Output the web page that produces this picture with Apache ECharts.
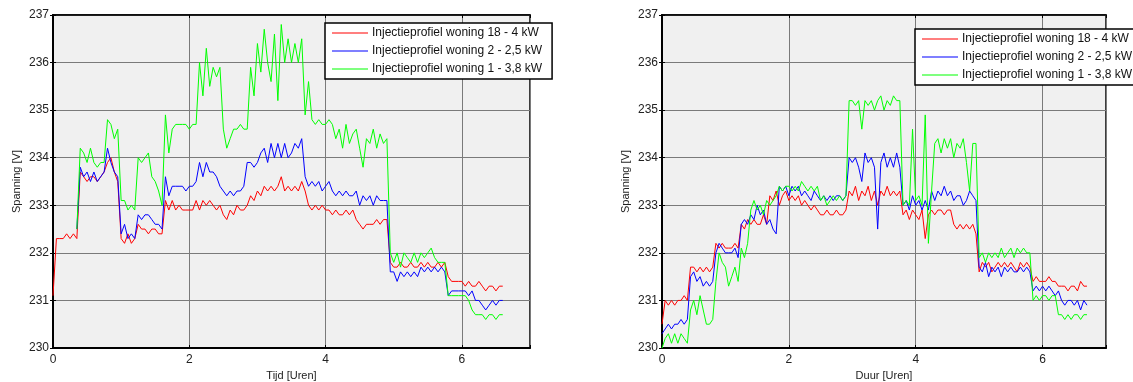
<!DOCTYPE html>
<html lang="nl">
<head>
  <meta charset="utf-8">
  <title>Spanning injectieprofielen</title>
  <style>
    html, body { margin: 0; padding: 0; background: #fff; }
    #chart { width: 1133px; height: 382px; }
  </style>
</head>
<body>
  <div id="chart"></div>
  <script src="https://cdn.jsdelivr.net/npm/echarts@6/dist/echarts.min.js"></script>
  <script>
    // tijdstap tussen de meetpunten (uren)
    var stepH = 0.05;

    var seriesNames = ['Injectieprofiel woning 18 - 4 kW', 'Injectieprofiel woning 2 - 2,5 kW', 'Injectieprofiel woning 1 - 3,8 kW'];
    var lineColors = ['#ff0000', '#0000ff', '#00ff00'];
    var yTicks = [230, 231, 232, 233, 234, 235, 236, 237];
    var xTicks = [0, 2, 4, 6];

    // linker grafiek (Tijd)
    var leftRed = [231.1, 232.3, 232.3, 232.3, 232.4, 232.3, 232.4, 232.3, 233.7, 233.6,
      233.5, 233.6, 233.6, 233.5, 233.6, 233.7, 233.9, 234.0, 233.7, 233.5,
      232.3, 232.2, 232.4, 232.2, 232.3, 232.6, 232.5, 232.5, 232.4, 232.5,
      232.5, 232.4, 232.4, 233.1, 232.9, 233.1, 232.9, 233.0, 232.9, 232.9,
      232.9, 232.9, 233.1, 232.9, 233.1, 233.0, 233.1, 233.0, 232.9, 233.0,
      232.8, 232.7, 232.9, 232.8, 233.0, 232.9, 232.9, 233.0, 233.2, 233.1,
      233.3, 233.2, 233.4, 233.3, 233.4, 233.3, 233.4, 233.6, 233.3, 233.4,
      233.3, 233.4, 233.3, 233.5, 233.3, 233.0, 232.9, 233.0, 232.9, 233.0,
      232.9, 232.9, 232.8, 232.9, 232.8, 232.8, 232.9, 232.8, 232.9, 232.7,
      232.6, 232.5, 232.6, 232.6, 232.6, 232.7, 232.6, 232.7, 232.7, 231.8,
      231.7, 231.7, 231.8, 231.7, 231.7, 231.8, 231.7, 231.7, 231.8, 231.7,
      231.8, 231.7, 231.7, 231.8, 231.7, 231.8, 231.5, 231.4, 231.4, 231.4,
      231.4, 231.3, 231.4, 231.3, 231.3, 231.4, 231.3, 231.2, 231.3, 231.3,
      231.2, 231.3, 231.3];
    var leftBlue = [null, null, null, null, null, null, null, 232.5, 233.8, 233.6,
      233.7, 233.5, 233.7, 233.5, 233.6, 233.7, 234.2, 233.9, 233.7, 233.6,
      232.4, 232.6, 232.3, 232.4, 232.3, 232.8, 232.7, 232.8, 232.8, 232.7,
      232.6, 232.6, 232.5, 233.6, 233.2, 233.4, 233.4, 233.4, 233.4, 233.3,
      233.4, 233.4, 233.5, 233.9, 233.6, 233.9, 233.7, 233.7, 233.6, 233.4,
      233.3, 233.2, 233.3, 233.2, 233.3, 233.3, 233.4, 233.9, 233.9, 233.8,
      233.9, 234.1, 234.2, 233.9, 234.3, 234.0, 234.3, 234.0, 234.3, 234.0,
      234.1, 234.3, 234.2, 234.4, 233.6, 233.4, 233.5, 233.4, 233.5, 233.3,
      233.4, 233.5, 233.3, 233.2, 233.3, 233.2, 233.3, 233.2, 233.2, 233.3,
      233.0, 233.2, 233.1, 233.2, 233.0, 233.2, 233.1, 233.1, 233.1, 231.6,
      231.6, 231.4, 231.6, 231.5, 231.6, 231.5, 231.6, 231.5, 231.7, 231.6,
      231.7, 231.6, 231.7, 231.6, 231.7, 231.6, 231.1, 231.2, 231.2, 231.2,
      231.2, 231.2, 231.1, 231.2, 231.0, 231.0, 230.9, 230.8, 230.9, 231.0,
      230.9, 231.0, 231.0];
    var leftGreen = [null, null, null, null, null, null, null, 232.5, 234.2, 234.1,
      233.9, 234.2, 233.9, 233.8, 233.9, 233.9, 234.8, 234.7, 234.4, 234.6,
      233.1, 233.1, 232.9, 233.0, 232.9, 234.0, 233.9, 234.0, 234.1, 233.6,
      233.5, 233.3, 233.0, 234.9, 234.1, 234.6, 234.7, 234.7, 234.7, 234.7,
      234.6, 234.7, 234.7, 236.0, 235.3, 236.3, 235.5, 235.9, 235.7, 235.9,
      234.6, 234.2, 234.4, 234.6, 234.6, 234.7, 234.6, 234.6, 235.9, 235.3,
      236.4, 235.8, 236.7, 236.0, 235.6, 236.6, 235.2, 236.8, 236.0, 236.5,
      236.0, 236.4, 236.0, 236.5, 234.9, 235.6, 234.8, 234.7, 234.8, 234.7,
      234.7, 234.8, 234.7, 234.4, 234.6, 234.2, 234.7, 234.3, 234.5, 234.6,
      234.2, 233.8, 234.4, 234.3, 234.6, 234.2, 234.5, 234.3, 234.4, 232.0,
      231.8, 232.0, 231.7, 232.0, 231.9, 231.8, 232.0, 231.8, 232.0, 231.9,
      232.0, 232.1, 231.9, 231.8, 231.8, 231.8, 231.1, 231.1, 231.1, 231.1,
      231.1, 231.1, 231.0, 230.8, 230.7, 230.7, 230.7, 230.6, 230.7, 230.7,
      230.6, 230.7, 230.7];

    // rechter grafiek (Duur)
    var rightRed = [230.5, 231.0, 230.9, 231.0, 230.9, 231.0, 231.0, 231.1, 231.0, 231.7,
      231.7, 231.6, 231.7, 231.6, 231.7, 231.6, 231.7, 232.2, 232.1, 232.2,
      232.1, 232.1, 232.1, 232.2, 232.1, 232.6, 232.5, 232.7, 232.6, 232.7,
      232.6, 232.6, 232.8, 232.6, 233.2, 233.1, 233.3, 233.0, 233.2, 233.3,
      233.1, 233.2, 233.1, 233.2, 233.0, 233.1, 233.0, 232.9, 233.0, 232.9,
      232.8, 232.8, 232.9, 232.8, 232.8, 232.9, 232.8, 232.8, 232.9, 233.3,
      233.2, 233.4, 233.1, 233.3, 233.2, 233.4, 233.1, 233.3, 233.0, 233.3,
      233.2, 233.4, 233.2, 233.3, 233.2, 233.3, 232.8, 232.9, 232.7, 232.9,
      232.8, 232.7, 232.9, 232.3, 232.8, 232.9, 232.8, 232.9, 232.9, 232.8,
      232.9, 232.9, 232.6, 232.5, 232.6, 232.5, 232.6, 232.5, 232.6, 232.4,
      231.6, 231.8, 231.7, 231.8, 231.6, 231.7, 231.8, 231.7, 231.8, 231.7,
      231.8, 231.7, 231.6, 231.8, 231.7, 231.8, 231.7, 231.4, 231.5, 231.4,
      231.4, 231.4, 231.5, 231.4, 231.4, 231.3, 231.3, 231.3, 231.2, 231.3,
      231.3, 231.2, 231.4, 231.3, 231.3];
    var rightBlue = [230.3, 230.4, 230.5, 230.4, 230.5, 230.5, 230.6, 230.5, 230.6, 231.5,
      231.6, 231.4, 231.5, 231.3, 231.4, 231.3, 231.4, 232.0, 232.2, 232.1,
      232.0, 232.0, 232.0, 232.1, 231.9, 232.6, 232.7, 232.6, 232.8, 232.7,
      233.0, 232.8, 232.9, 232.6, 232.7, 232.5, 232.4, 233.4, 233.3, 233.4,
      233.2, 233.4, 233.3, 233.4, 233.2, 233.3, 233.2, 233.1, 233.3, 233.2,
      233.1, 233.2, 233.1, 233.2, 233.1, 233.2, 233.2, 233.1, 233.2, 234.0,
      233.9, 234.0, 233.8, 233.5, 234.1, 233.9, 234.0, 233.8, 232.5, 233.9,
      234.1, 233.8, 234.0, 233.8, 234.1, 233.8, 233.0, 233.1, 232.9, 233.2,
      233.0, 233.1, 232.9, 233.1, 232.9, 233.3, 233.1, 233.3, 233.2, 233.4,
      233.2, 233.3, 233.1, 233.2, 233.2, 233.0, 233.1, 233.3, 233.2, 233.1,
      231.7, 231.6, 231.8, 231.5, 231.7, 231.6, 231.7, 231.5, 231.7, 231.6,
      231.7, 231.6, 231.6, 231.7, 231.6, 231.7, 231.6, 231.2, 231.3, 231.2,
      231.3, 231.2, 231.3, 231.2, 231.1, 231.2, 231.0, 230.9, 231.0, 231.0,
      230.9, 231.0, 230.8, 231.0, 230.9];
    var rightGreen = [230.0, 230.2, 230.3, 230.1, 230.3, 230.1, 230.3, 230.2, 230.1, 230.8,
      231.0, 230.7, 231.1, 230.8, 230.5, 230.5, 230.6, 231.4, 232.0, 231.8,
      231.7, 231.3, 231.5, 231.7, 231.4, 232.1, 231.9, 232.2, 232.9, 233.1,
      232.9, 233.0, 232.8, 233.1, 233.0, 233.1, 233.2, 233.4, 233.3, 233.4,
      233.4, 233.3, 233.4, 233.3, 233.5, 233.4, 233.3, 233.4, 233.3, 233.4,
      233.1, 233.2, 233.0, 233.1, 233.2, 233.1, 233.2, 233.1, 233.2, 235.2,
      235.2, 235.1, 235.2, 234.6, 235.2, 235.1, 235.2, 235.0, 235.2, 235.3,
      235.0, 235.2, 235.1, 235.3, 235.2, 235.2, 233.0, 233.1, 233.0, 234.6,
      233.1, 233.2, 233.0, 234.9, 232.2, 233.3, 234.3, 234.4, 234.1, 234.4,
      234.2, 234.4, 234.0, 234.3, 234.2, 234.4, 233.9, 233.3, 234.3, 234.3,
      231.9, 232.0, 231.8, 232.0, 231.9, 232.0, 231.9, 232.1, 231.9, 232.0,
      232.1, 231.9, 232.1, 232.0, 232.1, 232.0, 232.0, 231.0, 231.1, 231.0,
      231.1, 231.1, 231.0, 231.1, 231.1, 230.7, 230.7, 230.6, 230.7, 230.6,
      230.7, 230.7, 230.6, 230.7, 230.7];

    // koppel de waarden aan de tijdas
    function toPoints(vals) {
      return vals.map(function (v, i) { return [+(i * stepH).toFixed(2), v]; });
    }

    var fontFam = '"Liberation Sans", Arial, sans-serif';
    var grids = [
      { left: 53, top: 15, width: 477, height: 333 },
      { left: 662, top: 15, width: 444, height: 333 }
    ];
    var xNames = ['Tijd [Uren]', 'Duur [Uren]'];
    var legendPos = [{ left: 325, top: 23 }, { left: 915, top: 29 }];
    var chartData = [[leftRed, leftBlue, leftGreen], [rightRed, rightBlue, rightGreen]];

    var option = {
      animation: false,
      grid: [],
      xAxis: [],
      yAxis: [],
      legend: [],
      series: []
    };

    grids.forEach(function (g, k) {
      option.grid.push({
        left: g.left, top: g.top, width: g.width, height: g.height,
        containLabel: false, outerBoundsMode: 'none',
        show: true, backgroundColor: '#f0f0f0', borderColor: '#000', borderWidth: 1.5
      });
      // onderste en bovenste x-as
      option.xAxis.push({
        type: 'value', gridIndex: k, min: 0, max: 7, interval: 2,
        name: xNames[k], nameLocation: 'middle', nameGap: 20,
        nameTextStyle: { fontFamily: fontFam, fontSize: 11, color: '#222' },
        axisLine: { lineStyle: { color: '#000', width: 2 } },
        axisTick: { inside: true, length: 3, lineStyle: { color: '#000' } },
        axisLabel: {
          fontFamily: fontFam, fontSize: 12, color: '#222', margin: 6,
          formatter: function (v) { return xTicks.indexOf(v) >= 0 ? String(v) : ''; }
        },
        splitLine: { show: true, lineStyle: { color: '#7a7a7a', width: 1 } }
      });
      option.xAxis.push({
        type: 'value', gridIndex: k, min: 0, max: 7, interval: 2, position: 'top',
        axisLine: { lineStyle: { color: '#000', width: 1.5 } },
        axisTick: { inside: true, length: 3, lineStyle: { color: '#000' } },
        axisLabel: { show: false }, splitLine: { show: false }
      });
      // linker en rechter y-as
      option.yAxis.push({
        type: 'value', gridIndex: k, min: yTicks[0], max: yTicks[yTicks.length - 1], interval: 1,
        name: 'Spanning [V]', nameLocation: 'middle', nameGap: 31, nameRotate: 90,
        nameTextStyle: { fontFamily: fontFam, fontSize: 11, color: '#222' },
        axisLine: { lineStyle: { color: '#000', width: 2 } },
        axisTick: { inside: true, length: 3, lineStyle: { color: '#000' } },
        axisLabel: { fontFamily: fontFam, fontSize: 12, color: '#222', margin: 4 },
        splitLine: { show: true, lineStyle: { color: '#7a7a7a', width: 1 } }
      });
      option.yAxis.push({
        type: 'value', gridIndex: k, min: yTicks[0], max: yTicks[yTicks.length - 1], interval: 1,
        position: 'right',
        axisLine: { lineStyle: { color: '#000', width: 1.5 } },
        axisTick: { inside: true, length: 3, lineStyle: { color: '#000' } },
        axisLabel: { show: false }, splitLine: { show: false }
      });

      option.legend.push({
        left: legendPos[k].left, top: legendPos[k].top,
        orient: 'vertical', data: seriesNames,
        icon: 'rect', itemWidth: 36, itemHeight: 1.2, itemGap: 4,
        padding: [3, 10, 3, 7],
        backgroundColor: '#fff', borderColor: '#000', borderWidth: 1.5, borderRadius: 0,
        selectedMode: false,
        textStyle: { fontFamily: fontFam, fontSize: 12, color: '#111', lineHeight: 14, padding: [0, 0, 0, -1] }
      });

      chartData[k].forEach(function (vals, s) {
        option.series.push({
          name: seriesNames[s], type: 'line',
          xAxisIndex: k * 2, yAxisIndex: k * 2,
          data: toPoints(vals),
          showSymbol: false, symbol: 'none',
          lineStyle: { color: lineColors[s], width: 1 },
          itemStyle: { color: lineColors[s] },
          connectNulls: false
        });
      });
    });

    var myChart = echarts.init(document.getElementById('chart'));
    myChart.setOption(option);
  </script>
</body>
</html>
